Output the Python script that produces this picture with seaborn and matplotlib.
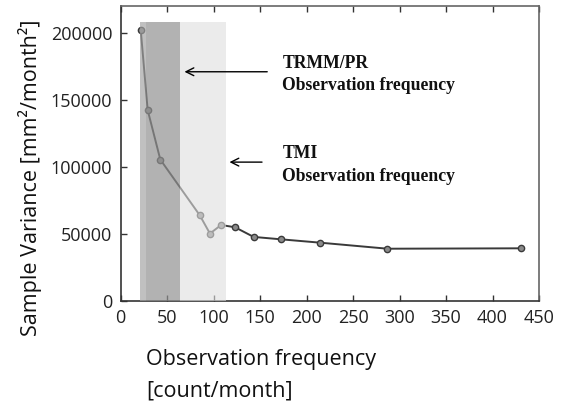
import matplotlib
matplotlib.use("Agg")
import matplotlib.pyplot as plt
import seaborn as sns
import pandas as pd

# Data
obs_freq = [21.5, 29, 42.6, 85, 96, 108, 123, 143, 172.6, 214.7, 287, 430.6]
sample_var = [202500, 142500, 105500, 64000, 50300, 56700, 55000, 47800, 46000, 43500, 39000, 39300]

tmi_band = (21, 113)
pr_band_edge = (21, 27)
pr_band = (27, 64)
band_top = 208000

ann_pr_text = "TRMM/PR\nObservation frequency"
ann_tmi_text = "TMI\nObservation frequency"

x_ticks = [0, 50, 100, 150, 200, 250, 300, 350, 400, 450]
y_ticks = [0, 50000, 100000, 150000, 200000]

sns.set_theme(style="ticks")
plt.rcParams['font.family'] = ['Open Sans', 'DejaVu Sans']

fig = plt.figure(figsize=(5.63, 4.05), dpi=100)
ax = fig.add_axes([0.2144, 0.2568, 0.9574 - 0.2144, 0.985 - 0.2568])

df = pd.DataFrame({"x": obs_freq, "y": sample_var})
sns.lineplot(data=df, x="x", y="y", ax=ax, color="#3a3a3a", lw=1.4,
             marker="o", markersize=4.5, markerfacecolor="#8a8a8a",
             markeredgecolor="#3a3a3a", markeredgewidth=1.0, zorder=2)

# shaded bands drawn over the line (semi-transparent), clipped at band_top
ylim_top = 220000
frac = band_top / ylim_top
ax.axvspan(tmi_band[0], tmi_band[1], ymin=0, ymax=frac, color="#dfdfdf", alpha=0.6, lw=0, zorder=3)
ax.axvspan(pr_band_edge[0], pr_band[1], ymin=0, ymax=frac, color="black", alpha=0.18, lw=0, zorder=4)
ax.axvspan(pr_band[0], pr_band[1], ymin=0, ymax=frac, color="black", alpha=0.07, lw=0, zorder=4)

serif = ['Liberation Serif', 'DejaVu Serif']
ax.annotate("", xy=(65.6, 171000), xytext=(160.6, 171000),
            arrowprops=dict(arrowstyle="->", color="black", lw=1.0, mutation_scale=14), zorder=5)
ax.annotate("", xy=(114, 103600), xytext=(155, 103600),
            arrowprops=dict(arrowstyle="->", color="black", lw=1.0, mutation_scale=14), zorder=5)
ax.text(174, 169000, ann_pr_text, family=serif, fontweight="bold", fontsize=12.7,
        ha="left", va="center", linespacing=1.45, color="#111111", zorder=5)
ax.text(174, 101700, ann_tmi_text, family=serif, fontweight="bold", fontsize=12.7,
        ha="left", va="center", linespacing=1.45, color="#111111", zorder=5)

ax.set_xlim(0, 450)
ax.set_ylim(0, ylim_top)
ax.set_xticks(x_ticks)
ax.set_yticks(y_ticks)
ax.set_xticklabels([str(v) for v in x_ticks])
ax.set_yticklabels([str(v) for v in y_ticks])
ax.tick_params(axis="both", direction="in", length=4, width=1, colors="#333333",
               labelsize=13, labelcolor="#222222", pad=6)
ax.tick_params(axis="x", top=True)
for side in ["left", "bottom", "top", "right"]:
    ax.spines[side].set_visible(True)
    ax.spines[side].set_color("#333333")
    ax.spines[side].set_linewidth(1.2)
ax.spines["top"].set_color("#666666")
ax.spines["right"].set_color("#666666")

ax.set_xlabel("Observation frequency\n[count/month]", fontsize=15.5, color="#111111",
              ha="left", va="top", linespacing=1.7)
ax.xaxis.set_label_coords(0.0605, -0.162)
ax.set_ylabel("Sample Variance [mm²/month²]", fontsize=15.5, color="#111111")
ax.yaxis.label.set_va("center")
ax.yaxis.set_label_coords(-0.217, 0.419)

fig.savefig("out.png", dpi=100, facecolor="white")
